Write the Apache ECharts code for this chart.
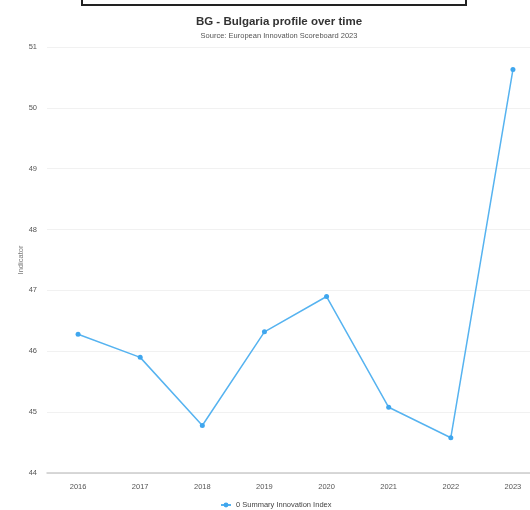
<!DOCTYPE html>
<html>
<head>
<meta charset="utf-8">
<script src="https://cdn.jsdelivr.net/npm/echarts@6/dist/echarts.min.js"></script>
<style>
  html, body { margin: 0; padding: 0; background: #fff; }
  #chart { width: 530px; height: 510px; }
</style>
</head>
<body>
<div id="chart"></div>
<script>
// Summary Innovation Index for Bulgaria, by year
const years = ['2016', '2017', '2018', '2019', '2020', '2021', '2022', '2023'];
const summaryIndex = [46.28, 45.90, 44.78, 46.32, 46.90, 45.08, 44.58, 50.63];
const seriesName = '0 Summary Innovation Index';

const chart = echarts.init(document.getElementById('chart'), null, { renderer: 'canvas' });

chart.setOption({
  backgroundColor: '#ffffff',
  animation: false,
  title: {
    text: 'BG - Bulgaria profile over time',
    subtext: 'Source: European Innovation Scoreboard 2023',
    left: 279,
    top: 16,
    padding: 0,
    itemGap: 4,
    textAlign: 'center',
    textStyle: { fontFamily: 'Liberation Sans, Arial, sans-serif', fontSize: 11.5, fontWeight: 'bold', color: '#333333' },
    subtextStyle: { fontFamily: 'Liberation Sans, Arial, sans-serif', fontSize: 7.5, color: '#555555' }
  },
  graphic: [{
    type: 'rect',
    shape: { x: 82, y: -4, width: 384, height: 9 },
    style: { fill: '#ffffff', stroke: '#222222', lineWidth: 2 }
  }],
  legend: {
    data: [seriesName],
    left: 220,
    top: 501,
    itemWidth: 10,
    itemHeight: 6,
    itemGap: 4,
    padding: 0,
    textStyle: { fontFamily: 'Liberation Sans, Arial, sans-serif', fontSize: 7.5, color: '#444444' }
  },
  grid: { left: 47, top: 47, width: 497, height: 426, containLabel: false, outerBoundsMode: 'none' },
  xAxis: {
    type: 'category',
    data: years,
    boundaryGap: true,
    axisLine: { lineStyle: { color: '#cccccc', width: 1.5 } },
    axisTick: { show: false },
    axisLabel: { margin: 10, fontFamily: 'Liberation Sans, Arial, sans-serif', fontSize: 7.5, color: '#555555' },
    splitLine: { show: false }
  },
  yAxis: {
    type: 'value',
    min: 44,
    max: 51,
    interval: 1,
    name: 'Indicator',
    nameLocation: 'middle',
    nameGap: 22,
    nameMoveOverlap: false,
    nameTextStyle: { fontFamily: 'Liberation Sans, Arial, sans-serif', fontSize: 7.5, color: '#777777' },
    axisLine: { show: false },
    axisTick: { show: false },
    axisLabel: { margin: 10, fontFamily: 'Liberation Sans, Arial, sans-serif', fontSize: 7.5, color: '#555555' },
    splitLine: { lineStyle: { color: '#f1f1f1', width: 1 } }
  },
  series: [{
    name: seriesName,
    type: 'line',
    data: summaryIndex,
    symbol: 'circle',
    symbolSize: 5,
    itemStyle: { color: '#3fa6ee' },
    lineStyle: { color: '#56b3f0', width: 1.5 }
  }]
});
</script>
</body>
</html>
